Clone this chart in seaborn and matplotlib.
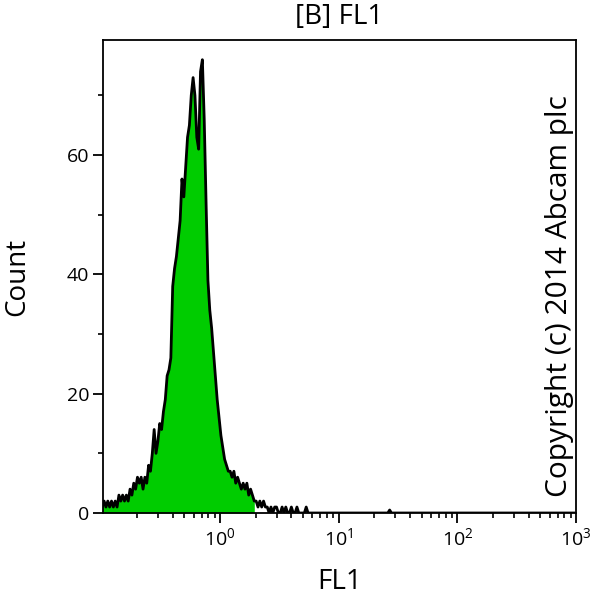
import numpy as np
import pandas as pd
import matplotlib
matplotlib.use("Agg")
import matplotlib.pyplot as plt
import matplotlib.ticker as mticker
import seaborn as sns

# FL1 histogram: 64 channels per decade from 10^-1
channels_per_decade = 64
first_decade = -1
n_channels = 256
counts = [
    1, 2, 1, 2, 1, 2, 1, 2, 1, 3,
    2, 3, 2, 3, 2, 4, 3, 5, 4, 6,
    5, 6, 4, 6, 5, 8, 7, 10, 14, 10,
    12, 15, 14, 17, 19, 23, 24, 26, 38, 41,
    43, 46, 49, 56, 53, 58, 63, 65, 70, 73,
    70, 63, 61, 74, 76, 66, 52, 39, 34, 31,
    27, 23, 19, 16, 13, 11, 9, 8, 7, 7,
    6, 7, 5, 6, 5, 4, 5, 4, 5, 3,
    4, 3, 2, 2, 1, 2, 1, 2, 1, 1,
    0, 1, 0, 1, 1, 0, 0, 1, 0, 1,
    0, 0, 1, 0, 0, 1, 0, 0, 0, 0, 1, 0,
]
tail_blips = {155: 0.5}   # lone faint event near 27
gate_max = 2.0            # green region ends here

title = "[B] FL1"
x_label = "FL1"
y_label = "Count"
y_ticks = [0, 20, 40, 60]
x_decades = [0, 1, 2, 3]
copyright_text = "Copyright (c) 2014 Abcam plc"

sns.set_theme(style="ticks")
plt.rcParams["font.family"] = ["Open Sans", "DejaVu Sans"]
plt.rcParams["mathtext.default"] = "regular"

# build the full channel table
all_counts = np.zeros(n_channels)
all_counts[:len(counts)] = counts
for ch, c in tail_blips.items():
    all_counts[ch] = c
centres = 10 ** (first_decade + (np.arange(n_channels) + 0.5) / channels_per_decade)
df = pd.DataFrame({"FL1": centres, "Count": all_counts})

fig = plt.figure(figsize=(5.98, 6.0), dpi=100)
ax = fig.add_axes([0.1722, 0.145, 0.791, 0.7883])

gated = df[df["FL1"] <= gate_max]
ax.fill_between(gated["FL1"], gated["Count"], color="#00cc00", linewidth=0)
sns.lineplot(data=df, x="FL1", y="Count", color="black", linewidth=2.0,
             estimator=None, ax=ax)

ax.set_xscale("log")
ax.set_xlim(10 ** -0.986, 1000)
ax.set_ylim(0, 79.3)

# ticks
ax.yaxis.set_major_locator(mticker.FixedLocator(y_ticks))
ax.yaxis.set_minor_locator(mticker.MultipleLocator(10))
ax.xaxis.set_major_locator(mticker.FixedLocator([10.0 ** d for d in x_decades]))
ax.xaxis.set_major_formatter(mticker.FixedFormatter([f"$10^{{{d}}}$" for d in x_decades]))
ax.xaxis.set_minor_locator(mticker.LogLocator(base=10, subs=range(2, 10), numticks=20))
ax.xaxis.set_minor_formatter(mticker.NullFormatter())
ax.tick_params(which="major", direction="out", length=7, width=1.3,
               color="black", labelsize=14, labelcolor="black", pad=3)
ax.tick_params(which="minor", direction="out", length=3.5, width=1.2, color="black")

for s in ax.spines.values():
    s.set_visible(True)
    s.set_linewidth(1.3)
    s.set_color("black")

ax.set_xlabel(x_label, fontsize=20, color="black")
ax.xaxis.set_label_coords(0.5, -0.146)
ax.xaxis.label.set_va("center")
ax.set_ylabel(y_label, fontsize=20, color="black")
ax.yaxis.set_label_coords(-0.182, 0.5)
ax.yaxis.label.set_va("center")

ax.set_title(title, fontsize=20, y=1.049, pad=0, va="center", color="black")

ax.text(0.996, 0.034, copyright_text, transform=ax.transAxes, rotation=90,
        ha="right", va="bottom", fontsize=21.5, color="black")

fig.savefig("out.png", dpi=100)
